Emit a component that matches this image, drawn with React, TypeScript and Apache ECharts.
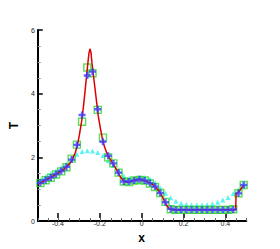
import React, { useEffect, useRef } from "react";
import * as echarts from "echarts";

const cellX = [
  -0.4875, -0.4625, -0.4375, -0.4125, -0.3875, -0.3625, -0.3375, -0.3125, -0.2875, -0.2625,
  -0.2375, -0.2125, -0.1875, -0.1625, -0.1375, -0.1125, -0.0875, -0.0625, -0.0375, -0.0125,
  0.0125, 0.0375, 0.0625, 0.0875, 0.1125, 0.1375, 0.1625, 0.1875, 0.2125, 0.2375,
  0.2625, 0.2875, 0.3125, 0.3375, 0.3625, 0.3875, 0.4125, 0.4375, 0.4625, 0.4875,
];

const blueT = [
  1.2, 1.29, 1.37, 1.47, 1.57, 1.7, 1.93, 2.39, 3.33, 4.57,
  4.69, 3.51, 2.49, 2.05, 1.81, 1.52, 1.24, 1.24, 1.27, 1.31,
  1.27, 1.19, 1.08, 0.88, 0.59, 0.38, 0.35, 0.35, 0.35, 0.35,
  0.35, 0.35, 0.35, 0.35, 0.35, 0.35, 0.35, 0.36, 0.87, 1.13,
];

const greenT = [
  1.19, 1.28, 1.36, 1.46, 1.56, 1.69, 1.96, 2.4, 3.12, 4.82,
  4.64, 3.49, 2.62, 2.0, 1.81, 1.52, 1.24, 1.22, 1.27, 1.29,
  1.27, 1.18, 1.07, 0.88, 0.6, 0.37, 0.35, 0.35, 0.35, 0.35,
  0.35, 0.35, 0.35, 0.35, 0.35, 0.35, 0.35, 0.37, 0.87, 1.13,
];

const cyanT = [
  1.29, 1.39, 1.49, 1.57, 1.68, 1.79, 1.96, 2.1, 2.18, 2.21,
  2.2, 2.15, 2.06, 1.9, 1.74, 1.57, 1.41, 1.34, 1.33, 1.35,
  1.37, 1.33, 1.2, 1.04, 0.87, 0.73, 0.62, 0.56, 0.52, 0.5,
  0.5, 0.5, 0.51, 0.54, 0.59, 0.66, 0.74, 0.86, 0.98, 1.13,
];

const redX = [
  -0.5, -0.475, -0.45, -0.425, -0.4, -0.375, -0.35, -0.335, -0.32, -0.31,
  -0.3, -0.29, -0.28, -0.27, -0.26, -0.255, -0.25, -0.245, -0.24, -0.23,
  -0.22, -0.21, -0.2, -0.19, -0.18, -0.17, -0.16, -0.15, -0.14, -0.13,
  -0.12, -0.11, -0.1, -0.09, -0.08, -0.07, -0.06, -0.05, -0.04, -0.03,
  -0.02, -0.01, 0, 0.01, 0.02, 0.03, 0.04, 0.05, 0.06, 0.07,
  0.08, 0.09, 0.1, 0.11, 0.12, 0.13, 0.14, 0.15, 0.2, 0.3,
  0.4, 0.449, 0.451, 0.4625, 0.4875,
];

const redT = [
  1.15, 1.24, 1.33, 1.42, 1.52, 1.63, 1.78, 1.92, 2.15, 2.38,
  2.72, 3.12, 3.65, 4.3, 4.95, 5.25, 5.41, 5.3, 4.95, 4.4,
  3.85, 3.3, 2.92, 2.58, 2.33, 2.15, 2.02, 1.91, 1.81, 1.7,
  1.58, 1.46, 1.35, 1.27, 1.23, 1.22, 1.23, 1.25, 1.27, 1.29,
  1.3, 1.3, 1.29, 1.27, 1.25, 1.22, 1.19, 1.15, 1.1, 1.03,
  0.95, 0.85, 0.73, 0.59, 0.47, 0.39, 0.36, 0.35, 0.35, 0.35,
  0.35, 0.35, 0.85, 0.9, 1.13,
];

const xMajorTicks = [-0.4, -0.2, 0, 0.2, 0.4];
const yTicks = [0, 2, 4, 6];

const FONT = "Arial, 'Liberation Sans', sans-serif";

const zip = (xs: number[], ys: number[]) => xs.map((x, i) => [x, ys[i]]);

export default function App() {
  const ref = useRef<HTMLDivElement>(null);
  useEffect(() => {
    document.body.style.margin = "0";
    const chart = echarts.init(ref.current!, undefined, { renderer: "svg" });
    const gridBox = { left: 37, right: 33.7, top: 30, bottom: 28 };
    chart.setOption({
      animation: false,
      backgroundColor: "#fff",
      grid: [
        { ...gridBox, containLabel: false },
        { ...gridBox, containLabel: false },
      ],
      xAxis: [
        {
          type: "value",
          gridIndex: 0,
          min: -0.5,
          max: 0.5,
          interval: 0.05,
          axisLine: { show: true, onZero: false, lineStyle: { color: "#000", width: 2 } },
          axisTick: { show: true, inside: true, length: 3, lineStyle: { color: "#666", width: 1 } },
          axisLabel: { show: false },
          splitLine: { show: false },
        },
        {
          type: "value",
          gridIndex: 1,
          min: -0.5,
          max: 0.5,
          axisLine: { show: false, onZero: false },
          axisTick: {
            show: true,
            inside: true,
            length: 5,
            customValues: xMajorTicks,
            lineStyle: { color: "#000", width: 1.5 },
          },
          axisLabel: {
            show: true,
            customValues: xMajorTicks,
            formatter: (v: number) => String(Math.round(v * 10) / 10),
            fontSize: 7,
            color: "#222",
            fontFamily: FONT,
            margin: 2,
          },
          splitLine: { show: false },
          name: "x",
          nameLocation: "middle",
          nameGap: 9,
          nameTextStyle: { fontSize: 12, fontWeight: "bold", color: "#000", fontFamily: FONT },
        },
      ],
      yAxis: [
        {
          type: "value",
          gridIndex: 0,
          min: 0,
          max: 6,
          interval: 2,
          axisLine: { show: true, onZero: false, lineStyle: { color: "#000", width: 2 } },
          axisTick: { show: true, inside: true, length: 5, lineStyle: { color: "#000", width: 1.5 } },
          minorTick: { show: true, splitNumber: 4, length: 3, lineStyle: { color: "#999", width: 1 } },
          axisLabel: {
            show: true,
            fontSize: 7,
            color: "#222",
            fontFamily: FONT,
            margin: 3,
            formatter: (v: number) => (yTicks.includes(v) ? String(v) : ""),
          },
          splitLine: { show: false },
          name: "T",
          nameLocation: "middle",
          nameRotate: 90,
          nameGap: 15,
          nameTextStyle: { fontSize: 12, fontWeight: "bold", color: "#000", fontFamily: FONT },
        },
        {
          type: "value",
          gridIndex: 1,
          min: 0,
          max: 6,
          show: false,
        },
      ],
      series: [
        {
          type: "scatter",
          name: "cyan",
          xAxisIndex: 0,
          yAxisIndex: 0,
          data: zip(cellX, cyanT),
          symbol: "triangle",
          symbolSize: 5,
          itemStyle: { color: "#33f0f0" },
          z: 1,
        },
        {
          type: "scatter",
          name: "green",
          xAxisIndex: 0,
          yAxisIndex: 0,
          data: zip(cellX, greenT),
          symbol: "rect",
          symbolSize: 7,
          itemStyle: { color: "rgba(0,0,0,0)", borderColor: "#2ed82e", borderWidth: 1.4 },
          z: 2,
        },
        {
          type: "line",
          name: "red",
          xAxisIndex: 0,
          yAxisIndex: 0,
          data: zip(redX, redT),
          showSymbol: false,
          symbol: "none",
          lineStyle: { color: "#dd0000", width: 1.5 },
          z: 3,
        },
        {
          type: "scatter",
          name: "blue",
          xAxisIndex: 0,
          yAxisIndex: 0,
          data: zip(cellX, blueT),
          symbol: "path://M3,0h3v3h3v3h-3v3h-3v-3h-3v-3h3z",
          symbolSize: 7,
          itemStyle: { color: "#3a3aff" },
          z: 4,
        },
      ],
    });
    return () => chart.dispose();
  }, []);
  return <div ref={ref} style={{ width: 280, height: 249 }} />;
}
